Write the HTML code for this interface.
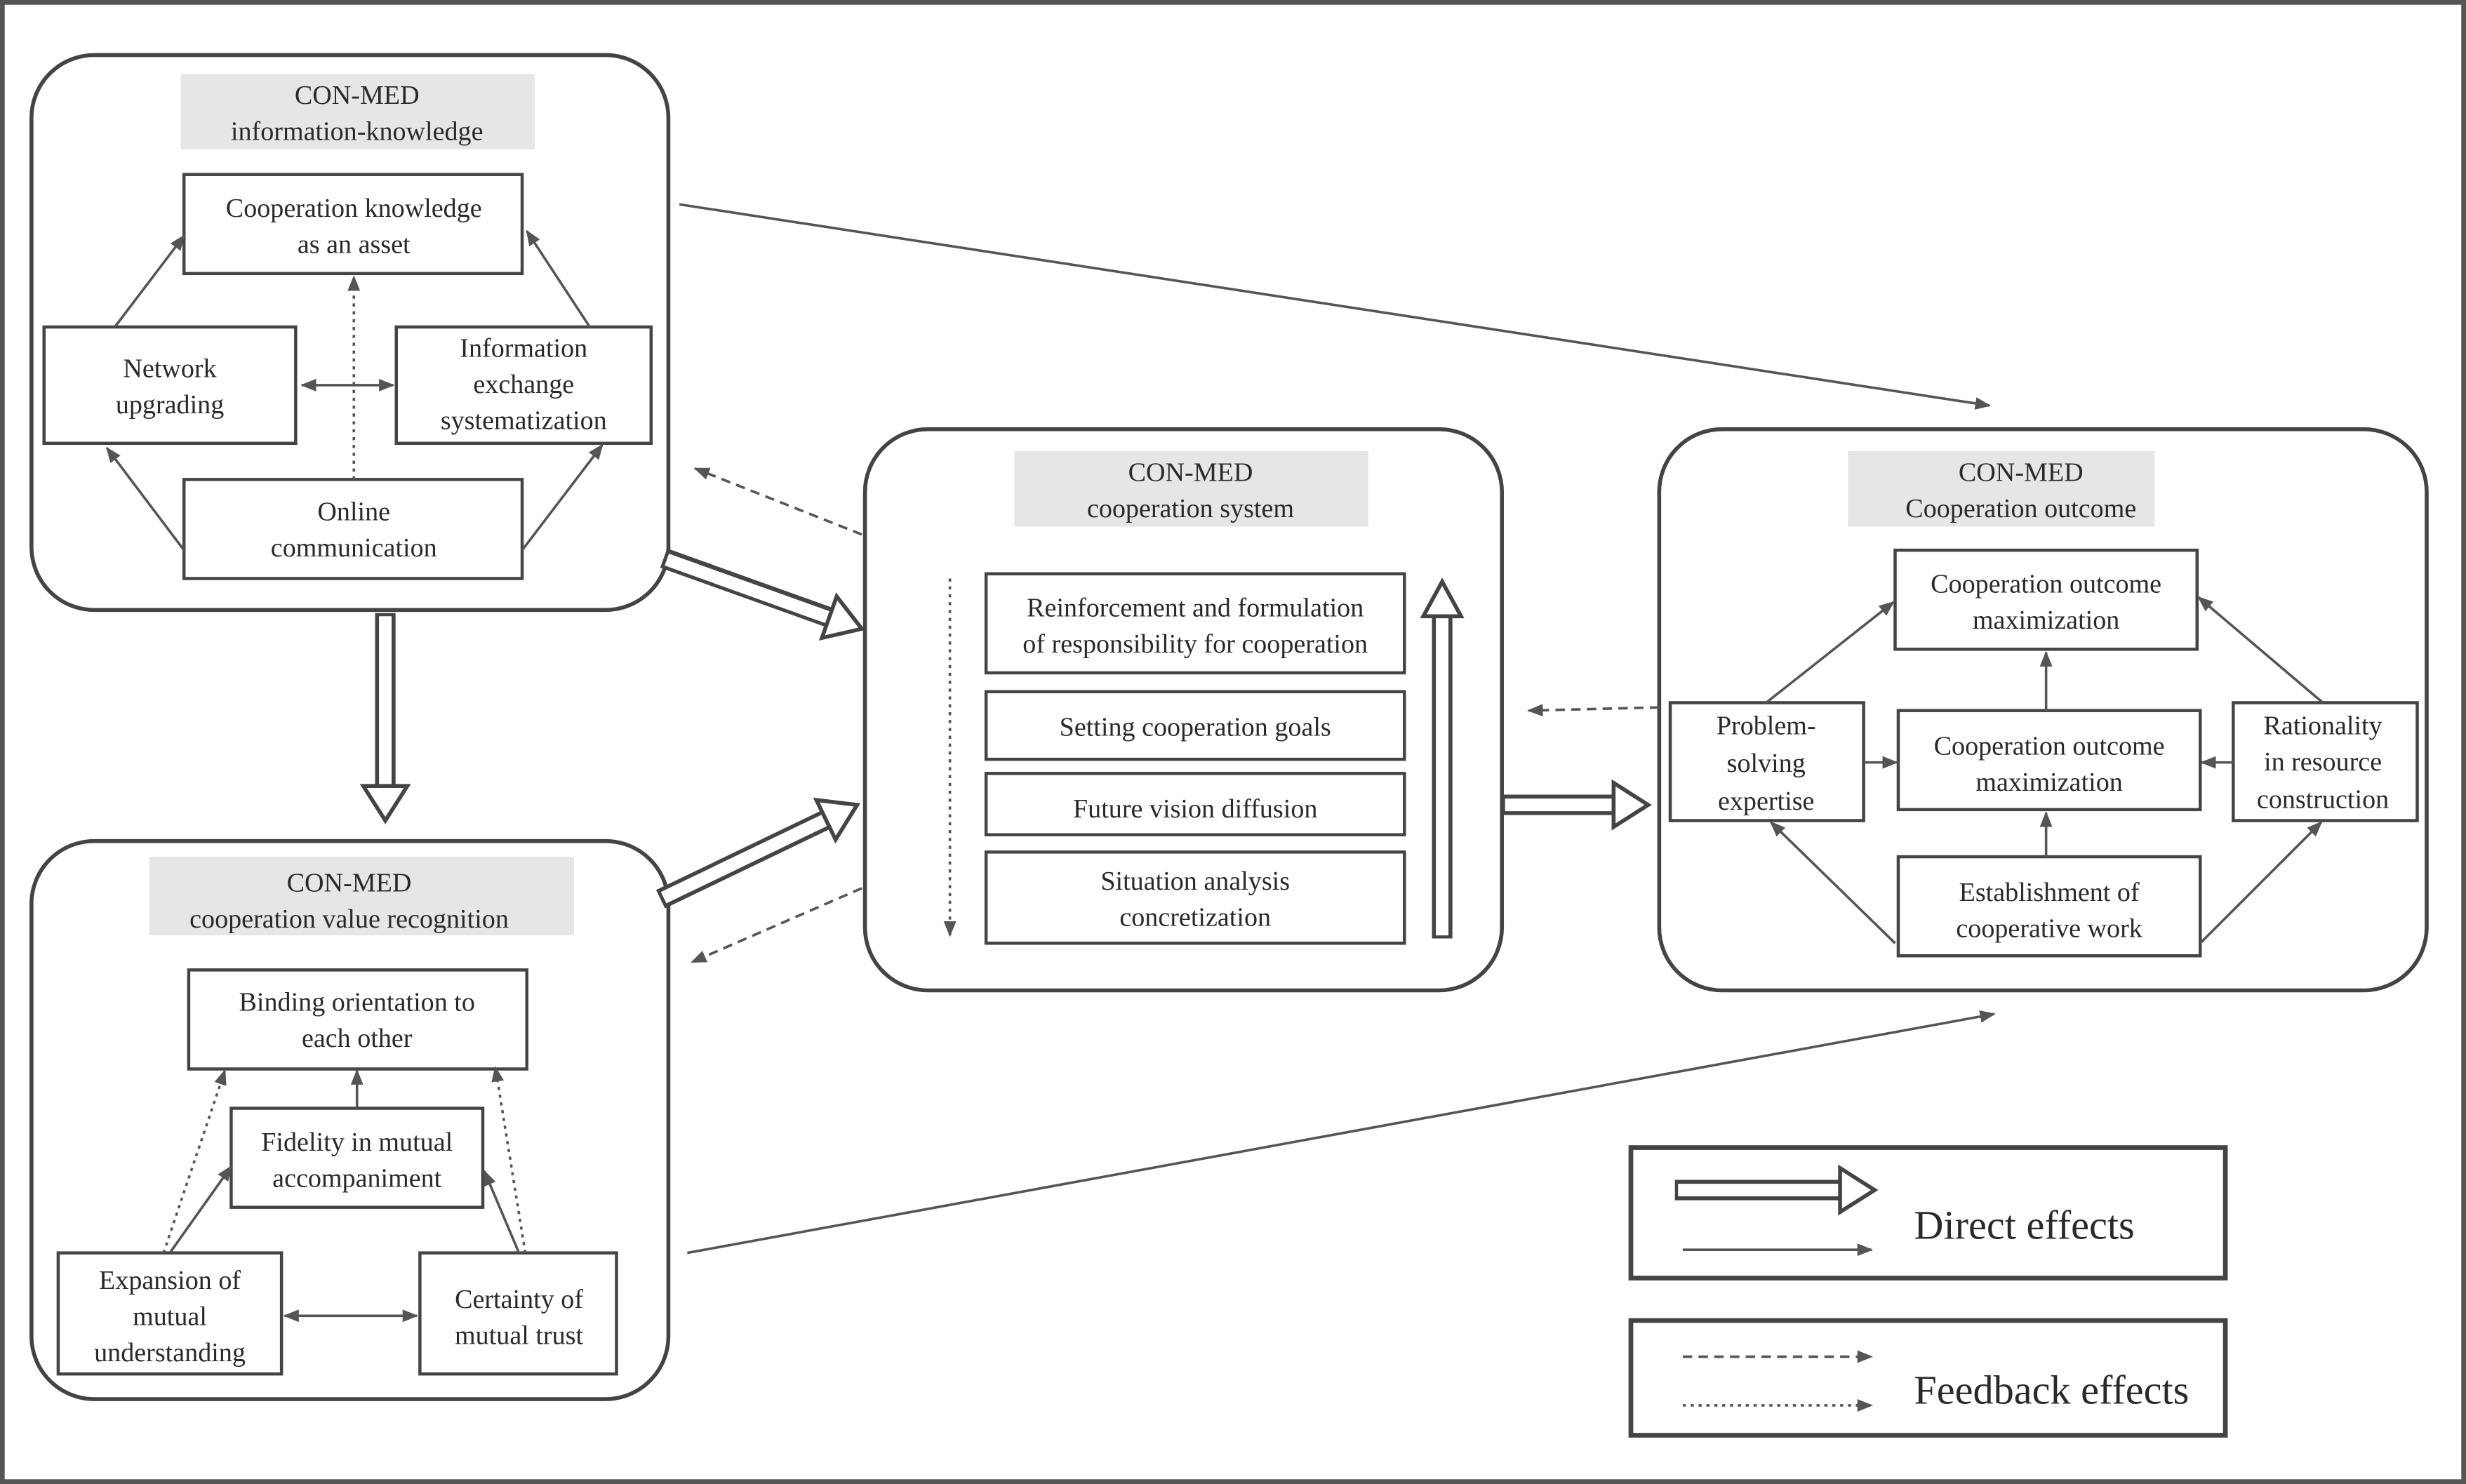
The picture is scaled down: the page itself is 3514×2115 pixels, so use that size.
<!DOCTYPE html>
<html><head><meta charset="utf-8"><style>
html,body{margin:0;padding:0;background:#fff;}
svg{display:block;}
text{font-family:"Liberation Serif","Times New Roman",serif;font-size:17px;fill:#2a2a2a;text-anchor:middle;}
</style></head><body>
<svg width="3514" height="2115" viewBox="0 0 1568 944" preserveAspectRatio="none" xmlns="http://www.w3.org/2000/svg">
<defs>
<marker id="ah" markerWidth="10" markerHeight="8" refX="9" refY="4" orient="auto" markerUnits="userSpaceOnUse"><path d="M0,0 L10,4 L0,8 Z" fill="#555"/></marker>
<marker id="as" markerWidth="10" markerHeight="8" refX="1" refY="4" orient="auto" markerUnits="userSpaceOnUse"><path d="M10,0 L0,4 L10,8 Z" fill="#555"/></marker>
</defs>
<rect x="1.5" y="1.5" width="1565" height="941" fill="#fff" stroke="#555" stroke-width="3"/>

<g fill="none" stroke="#444" stroke-width="2.5">
<rect x="20" y="35" width="405" height="353" rx="40"/>
<rect x="20" y="535" width="405" height="355" rx="40"/>
<rect x="550" y="273" width="405" height="357" rx="40"/>
<rect x="1055" y="273" width="488" height="357" rx="40"/>
</g>
<g fill="#e6e6e6">
<rect x="115" y="47" width="225" height="48"/>
<rect x="95" y="545" width="270" height="50"/>
<rect x="645" y="287" width="225" height="48"/>
<rect x="1175" y="287" width="195" height="48"/>
</g>
<g fill="#fff" stroke="#444" stroke-width="2">
<rect x="117" y="111" width="215" height="63"/>
<rect x="28" y="208" width="160" height="74"/>
<rect x="252" y="208" width="162" height="74"/>
<rect x="117" y="305" width="215" height="63"/>
<rect x="120" y="617" width="215" height="63"/>
<rect x="147" y="705" width="160" height="63"/>
<rect x="37" y="797" width="142" height="77"/>
<rect x="267" y="797" width="125" height="77"/>
<rect x="627" y="365" width="266" height="63"/>
<rect x="627" y="440" width="266" height="43"/>
<rect x="627" y="492" width="266" height="39"/>
<rect x="627" y="542" width="266" height="58"/>
<rect x="1205" y="350" width="192" height="63"/>
<rect x="1207" y="452" width="192" height="63"/>
<rect x="1207" y="545" width="192" height="63"/>
<rect x="1062" y="447" width="123" height="75"/>
<rect x="1420" y="447" width="117" height="75"/>
<rect x="1037" y="730" width="378" height="83" stroke-width="3"/>
<rect x="1037" y="840" width="378" height="73" stroke-width="3"/>
</g>

<g stroke="#555" stroke-width="1.6" fill="none" marker-end="url(#ah)">
<line x1="73" y1="208" x2="117" y2="150"/>
<line x1="375" y1="208" x2="335" y2="147"/>
<line x1="117" y1="350" x2="68" y2="285"/>
<line x1="332" y1="350" x2="383" y2="283"/>
<line x1="192" y1="245" x2="250" y2="245" marker-start="url(#as)"/>
<line x1="225" y1="305" x2="225" y2="176" stroke-dasharray="2,3"/>
<line x1="108" y1="797" x2="147" y2="742"/>
<line x1="104" y1="797" x2="143" y2="681" stroke-dasharray="2,3"/>
<line x1="330" y1="797" x2="308" y2="745"/>
<line x1="334" y1="797" x2="315" y2="679" stroke-dasharray="2,3"/>
<line x1="227" y1="705" x2="227" y2="681"/>
<line x1="181" y1="837" x2="265" y2="837" marker-start="url(#as)"/>
<line x1="604" y1="368" x2="604" y2="595" stroke-dasharray="2,3"/>
<line x1="1123" y1="447" x2="1204" y2="383"/>
<line x1="1477" y1="447" x2="1398" y2="380"/>
<line x1="1301" y1="452" x2="1301" y2="415"/>
<line x1="1301" y1="545" x2="1301" y2="517"/>
<line x1="1185" y1="485" x2="1206" y2="485"/>
<line x1="1420" y1="485" x2="1400" y2="485"/>
<line x1="1205" y1="600" x2="1126" y2="523"/>
<line x1="1399" y1="600" x2="1476" y2="523"/>
<line x1="548" y1="340" x2="442" y2="298" stroke-dasharray="6,4"/>
<line x1="548" y1="565" x2="440" y2="612" stroke-dasharray="6,4"/>
<line x1="1055" y1="450" x2="972" y2="452" stroke-dasharray="6,4"/>
<line x1="432" y1="130" x2="1265" y2="258"/>
<line x1="437" y1="797" x2="1268" y2="645"/>
<line x1="1070" y1="795" x2="1190" y2="795"/>
<line x1="1070" y1="863" x2="1190" y2="863" stroke-dasharray="6,4"/>
<line x1="1070" y1="894" x2="1190" y2="894" stroke-dasharray="2,3"/>
</g>

<g stroke-linecap="butt">
<g stroke="#444" stroke-width="13">
<line x1="422" y1="355" x2="528" y2="393"/>
<line x1="245" y1="390" x2="245" y2="501"/>
<line x1="420" y1="572" x2="526" y2="521"/>
<line x1="955" y1="512" x2="1027" y2="512"/>
<line x1="917" y1="597" x2="917" y2="391"/>
<line x1="1065" y1="757" x2="1171" y2="757"/>
</g>
<g stroke="#fff" stroke-width="8">
<line x1="424" y1="356" x2="530" y2="394"/>
<line x1="245" y1="392" x2="245" y2="503"/>
<line x1="422" y1="571" x2="528" y2="520"/>
<line x1="957" y1="512" x2="1029" y2="512"/>
<line x1="917" y1="595" x2="917" y2="389"/>
<line x1="1067" y1="757" x2="1173" y2="757"/>
</g>
<g fill="#fff" stroke="#444" stroke-width="2.5" stroke-linejoin="miter">
<polygon points="548,400 522.6,405.8 532,379.4"/>
<polygon points="245,522 231,500 259,500"/>
<polygon points="545,512 531.3,534.1 519.1,508.9"/>
<polygon points="1048,512 1026,498 1026,526"/>
<polygon points="917,370 905,392 929,392"/>
<polygon points="1192,757 1170,743 1170,771"/>
</g>
</g>

<g font-family="Liberation Serif, Times New Roman, serif">
<text x="227" y="66">CON-MED</text><text x="227" y="89">information-knowledge</text>
<text x="225" y="138">Cooperation knowledge</text><text x="225" y="161">as an asset</text>
<text x="108" y="240">Network</text><text x="108" y="263">upgrading</text>
<text x="333" y="227">Information</text><text x="333" y="250">exchange</text><text x="333" y="273">systematization</text>
<text x="225" y="331">Online</text><text x="225" y="354">communication</text>
<text x="222" y="567">CON-MED</text><text x="222" y="590">cooperation value recognition</text>
<text x="227" y="643">Binding orientation to</text><text x="227" y="666">each other</text>
<text x="227" y="732">Fidelity in mutual</text><text x="227" y="755">accompaniment</text>
<text x="108" y="820">Expansion of</text><text x="108" y="843">mutual</text><text x="108" y="866">understanding</text>
<text x="330" y="832">Certainty of</text><text x="330" y="855">mutual trust</text>
<text x="757" y="306">CON-MED</text><text x="757" y="329">cooperation system</text>
<text x="760" y="392">Reinforcement and formulation</text><text x="760" y="415">of responsibility for cooperation</text>
<text x="760" y="468">Setting cooperation goals</text>
<text x="760" y="520">Future vision diffusion</text>
<text x="760" y="566">Situation analysis</text><text x="760" y="589">concretization</text>
<text x="1285" y="306">CON-MED</text><text x="1285" y="329">Cooperation outcome</text>
<text x="1301" y="377">Cooperation outcome</text><text x="1301" y="400">maximization</text>
<text x="1303" y="480">Cooperation outcome</text><text x="1303" y="503">maximization</text>
<text x="1303" y="573">Establishment of</text><text x="1303" y="596">cooperative work</text>
<text x="1123" y="467">Problem-</text><text x="1123" y="491">solving</text><text x="1123" y="515">expertise</text>
<text x="1477" y="467">Rationality</text><text x="1477" y="490">in resource</text><text x="1477" y="514">construction</text>
<text x="1217" y="788" style="font-size:26px;text-anchor:start">Direct effects</text>
<text x="1217" y="893" style="font-size:26px;text-anchor:start">Feedback effects</text>
</g>
</svg>
</body></html>
